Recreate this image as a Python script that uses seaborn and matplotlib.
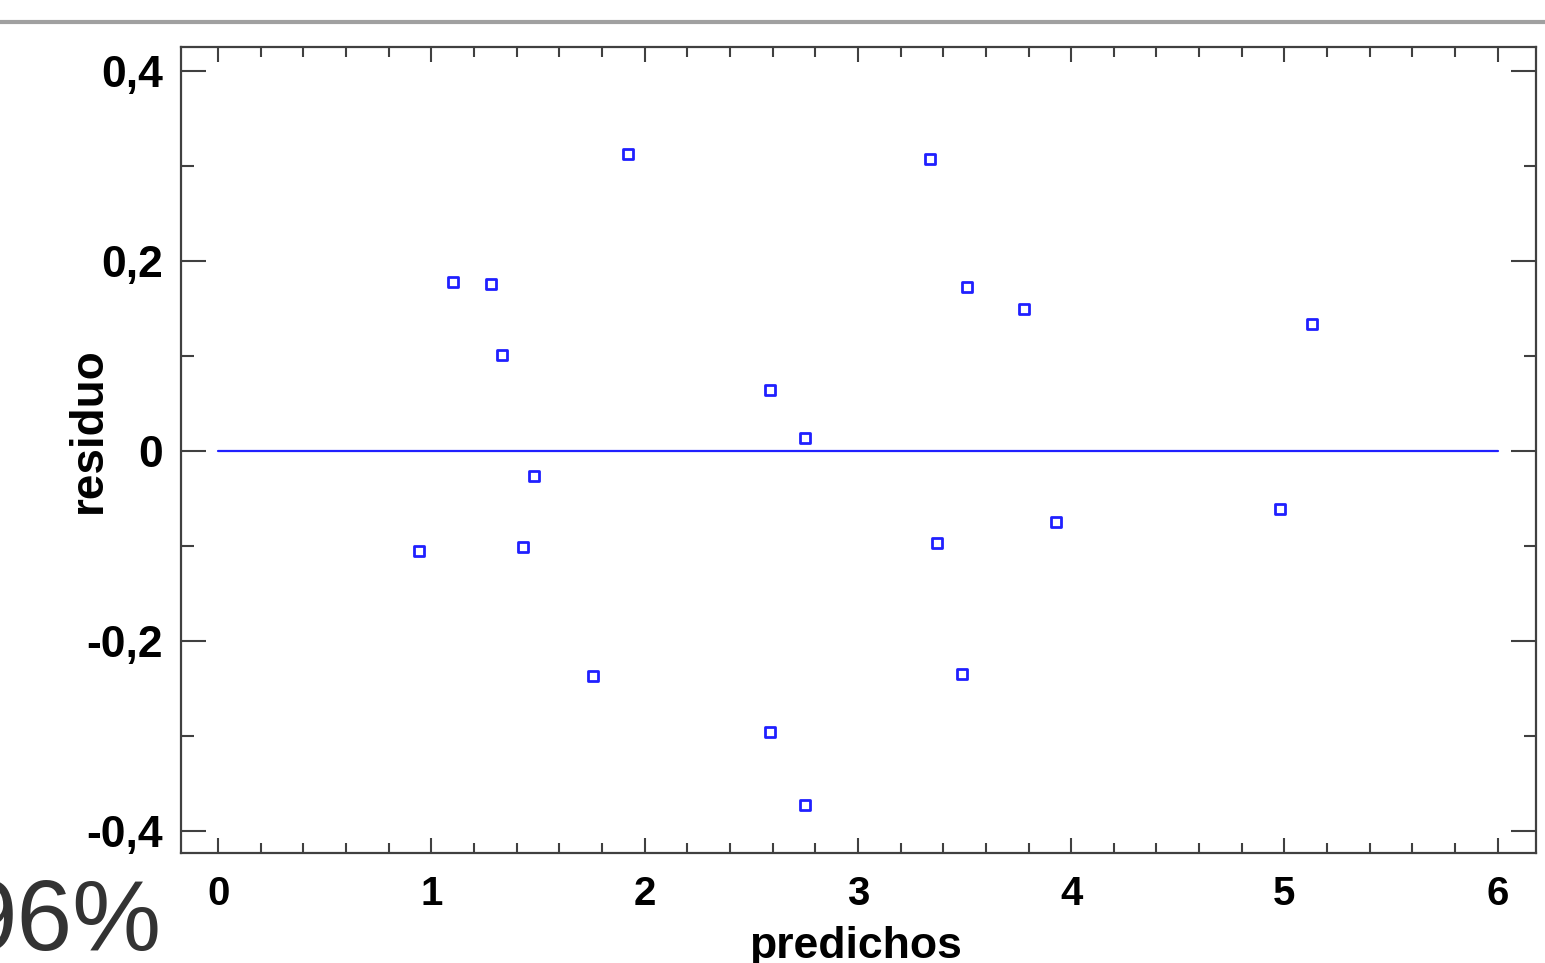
import matplotlib
matplotlib.use('Agg')
import matplotlib.pyplot as plt
import matplotlib.ticker as mticker
from matplotlib.lines import Line2D
import numpy as np
import pandas as pd
import seaborn as sns

# residuals vs predicted values
predichos = [0.94, 1.10, 1.28, 1.33, 1.48, 1.43, 1.92, 1.76, 2.59, 2.75,
             2.59, 2.75, 3.34, 3.51, 3.78, 3.37, 3.49, 3.93, 4.98, 5.13]
residuo = [-0.105, 0.178, 0.176, 0.101, -0.026, -0.101, 0.312, -0.237, 0.064, 0.014,
           -0.296, -0.373, 0.307, 0.172, 0.149, -0.097, -0.235, -0.075, -0.061, 0.134]
linea_x = [0, 6]
linea_y = [0, 0]

df = pd.DataFrame({'predichos': predichos, 'residuo': residuo})

sns.set_style('white')
plt.rcParams['font.family'] = ['Liberation Sans', 'DejaVu Sans']

fig = plt.figure(figsize=(15.45, 9.63), dpi=100)
ax = fig.add_axes([0.1172, 0.1142, 0.877, 0.837])

blue = '#2020ff'
sns.lineplot(x=linea_x, y=linea_y, ax=ax, color=blue, linewidth=1.6)
sns.scatterplot(data=df, x='predichos', y='residuo', ax=ax, marker='s', s=45,
                facecolor='white', edgecolor=blue, linewidth=2.0, zorder=3)

ax.set_xlim(-0.174, 6.18)
ax.set_ylim(-0.423, 0.425)

ax.xaxis.set_major_locator(mticker.MultipleLocator(1))
ax.xaxis.set_minor_locator(mticker.MultipleLocator(0.2))
ax.yaxis.set_major_locator(mticker.MultipleLocator(0.2))
ax.yaxis.set_minor_locator(mticker.MultipleLocator(0.1))

def coma(v, pos):
    if abs(v) < 1e-9:
        return '0'
    return ('%g' % round(v, 2)).replace('.', ',')

ax.yaxis.set_major_formatter(mticker.FuncFormatter(coma))
ax.xaxis.set_major_formatter(mticker.FuncFormatter(lambda v, p: '%d' % round(v)))

spine_c = '#404040'
for s in ax.spines.values():
    s.set_color(spine_c)
    s.set_linewidth(1.6)

ax.tick_params(axis='both', which='both', direction='in', colors=spine_c,
               top=True, right=True, bottom=True, left=True, width=1.5)
ax.tick_params(axis='y', which='major', length=18, pad=13, labelsize=32)
ax.tick_params(axis='y', which='minor', length=9)
ax.tick_params(axis='x', which='major', length=11, pad=16, labelsize=29)
ax.tick_params(axis='x', which='minor', length=7)
for lab in ax.get_xticklabels() + ax.get_yticklabels():
    lab.set_fontweight('bold')
    lab.set_color('black')

ax.set_xlabel('predichos', fontsize=32, fontweight='bold', color='black')
ax.set_ylabel('residuo', fontsize=33, fontweight='bold', color='black')
ax.xaxis.set_label_coords(0.498, -0.090)
ax.yaxis.set_label_coords(-0.052, 0.525)

# grey rule at the top and the cut-off percentage at the bottom left
fig.add_artist(Line2D([0, 1], [0.977, 0.977], transform=fig.transFigure,
                      color='#a0a0a0', linewidth=3))
fig.text(0.1045, 0.013, '96%', fontsize=72, color='#333333', ha='right', va='baseline')

fig.savefig('out.png', dpi=100)
